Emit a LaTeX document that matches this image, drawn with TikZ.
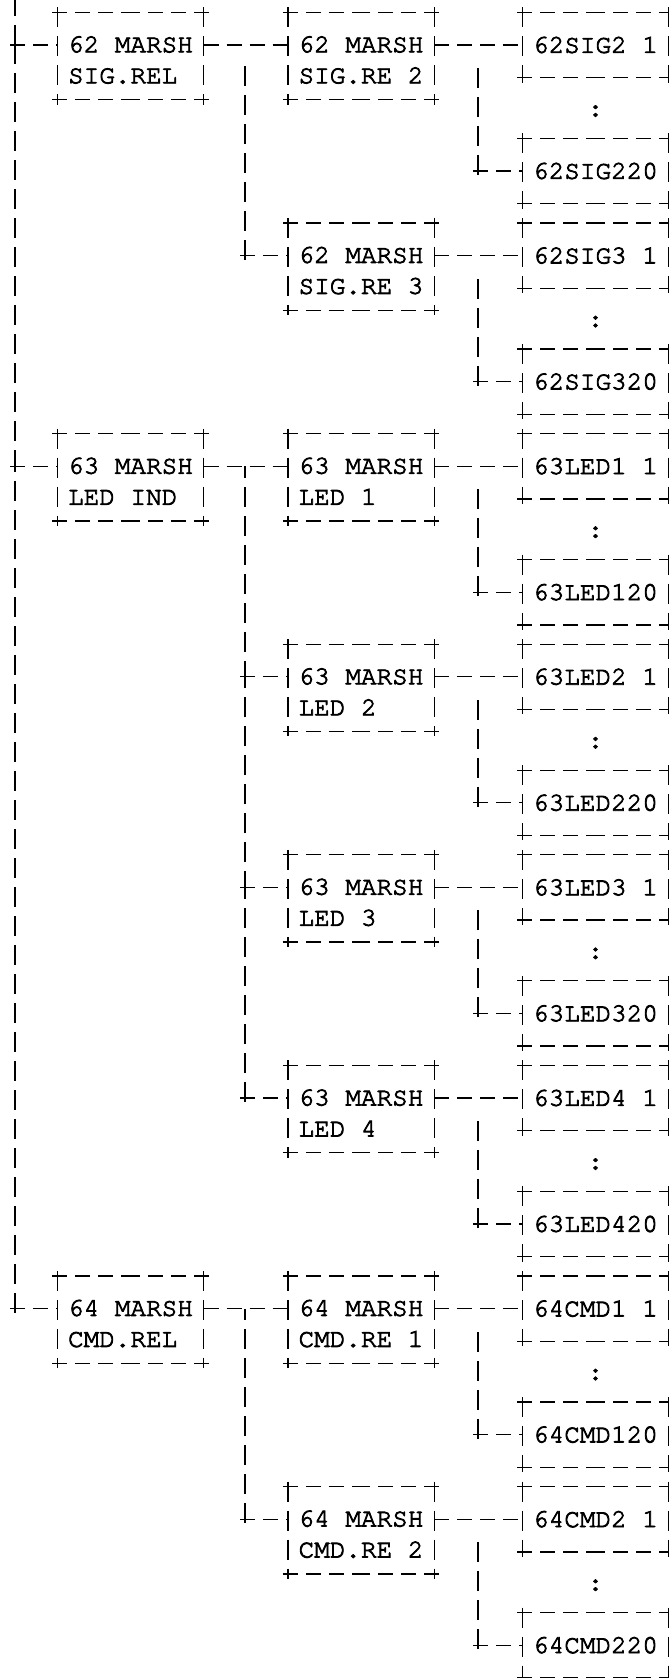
\documentclass[tikz,border=0pt]{standalone}
\usepackage{fontspec}
\newfontfamily\cursorfont{texgyrecursor-regular.otf}[FakeBold=3]
\newcommand\monofont{\cursorfont\fontsize{13pt}{15.5pt}\selectfont}
\newcommand\lift{\rule{0pt}{12pt}}
\tikzset{
  hdash/.style={dash pattern=on 7.5pt off 4pt},
  vdash/.style={dash pattern=on 10pt off 4.5pt},
  framed/.style={inner xsep=5pt, inner ysep=0pt, align=left, font=\monofont, minimum width=72.5pt,
    append after command={
      ([xshift=-2.5pt]\tikzlastnode.north west) edge[hdash] (\tikzlastnode.north)
      ([xshift=2.5pt]\tikzlastnode.north east) edge[hdash] (\tikzlastnode.north)
      ([xshift=-2.5pt]\tikzlastnode.south west) edge[hdash] (\tikzlastnode.south)
      ([xshift=2.5pt]\tikzlastnode.south east) edge[hdash] (\tikzlastnode.south)
      ([yshift=2.5pt]\tikzlastnode.north west) edge[vdash] ([yshift=-2.5pt]\tikzlastnode.south west)
      ([yshift=2.5pt]\tikzlastnode.north east) edge[vdash] ([yshift=-2.5pt]\tikzlastnode.south east)}},
  relbox/.style={framed, minimum height=43pt},
  leafbox/.style={framed, minimum height=32pt},
  dots/.style={font=\monofont, inner sep=0pt}
}
\begin{document}
\begin{tikzpicture}[x=0.5pt, y=-0.5pt, line width=0.65pt]
  \useasboundingbox (0,0) rectangle (669,1678);

  \node[relbox] (a62) at (130.5,56) {\lift62 MARSH\\SIG.REL};
  \node[relbox] (a63) at (130.5,477.2) {\lift63 MARSH\\LED IND};
  \node[relbox] (a64) at (130.5,1319.6) {\lift64 MARSH\\CMD.REL};

  \node[relbox] (b62s2) at (361,56) {\lift62 MARSH\\SIG.RE 2};
  \node[relbox] (b62s3) at (361,266.6) {\lift62 MARSH\\SIG.RE 3};
  \node[relbox] (b63l1) at (361,477.2) {\lift63 MARSH\\LED 1};
  \node[relbox] (b63l2) at (361,687.8) {\lift63 MARSH\\LED 2};
  \node[relbox] (b63l3) at (361,898.4) {\lift63 MARSH\\LED 3};
  \node[relbox] (b63l4) at (361,1109) {\lift63 MARSH\\LED 4};
  \node[relbox] (b64c1) at (361,1319.6) {\lift64 MARSH\\CMD.RE 1};
  \node[relbox] (b64c2) at (361,1530.2) {\lift64 MARSH\\CMD.RE 2};

  \node[leafbox] (s2a) at (595.5,45) {62SIG2 1};
  \node[dots] (s2dots) at (595.5,111) {:};
  \node[leafbox] (s2b) at (595.5,171) {62SIG220};
  \node[leafbox] (s3a) at (595.5,255.6) {62SIG3 1};
  \node[dots] (s3dots) at (595.5,321.6) {:};
  \node[leafbox] (s3b) at (595.5,381.6) {62SIG320};
  \node[leafbox] (l1a) at (595.5,466.2) {63LED1 1};
  \node[dots] (l1dots) at (595.5,532.2) {:};
  \node[leafbox] (l1b) at (595.5,592.2) {63LED120};
  \node[leafbox] (l2a) at (595.5,676.8) {63LED2 1};
  \node[dots] (l2dots) at (595.5,742.8) {:};
  \node[leafbox] (l2b) at (595.5,802.8) {63LED220};
  \node[leafbox] (l3a) at (595.5,887.4) {63LED3 1};
  \node[dots] (l3dots) at (595.5,953.4) {:};
  \node[leafbox] (l3b) at (595.5,1013.4) {63LED320};
  \node[leafbox] (l4a) at (595.5,1098) {63LED4 1};
  \node[dots] (l4dots) at (595.5,1164) {:};
  \node[leafbox] (l4b) at (595.5,1224) {63LED420};
  \node[leafbox] (c1a) at (595.5,1308.6) {64CMD1 1};
  \node[dots] (c1dots) at (595.5,1374.6) {:};
  \node[leafbox] (c1b) at (595.5,1434.6) {64CMD120};
  \node[leafbox] (c2a) at (595.5,1519.2) {64CMD2 1};
  \node[dots] (c2dots) at (595.5,1585.2) {:};
  \node[leafbox] (c2b) at (595.5,1645.2) {64CMD220};

  \coordinate (top) at (15,0);
  \coordinate (t62) at (15,45);
  \coordinate (t63) at (15,466.2);
  \coordinate (t64) at (15,1308.6);
  \draw[vdash] (t62) -- (top);
  \draw[vdash, shorten <=-2pt] (t63) -- (t62);
  \draw[vdash, shorten <=-2pt] (t64) -- (t63);
  \draw[hdash, shorten <=-2.5pt] (t62) -- (t62 -| a62.west);
  \draw[hdash, shorten <=-2.5pt] (t63) -- (t63 -| a63.west);
  \draw[hdash, shorten <=-2.5pt] (t64) -- (t64 -| a64.west);

  \draw[hdash] ([yshift=5.5pt]a62.east) -- ([yshift=5.5pt]b62s2.west);
  \draw[hdash] ([yshift=5.5pt]a63.east) -- ([yshift=5.5pt]b63l1.west);
  \draw[hdash] ([yshift=5.5pt]a64.east) -- ([yshift=5.5pt]b64c1.west);

  \coordinate (k62) at (245,60);
  \coordinate (k62s3) at (245,255.6);
  \draw[vdash, shorten <=-2pt] (k62s3) -- (k62);
  \draw[hdash, shorten <=-2.5pt] (k62s3) -- (k62s3 -| b62s3.west);

  \coordinate (k63) at (245,466.2);
  \coordinate (k63l2) at (245,676.8);
  \coordinate (k63l3) at (245,887.4);
  \coordinate (k63l4) at (245,1098);
  \draw[vdash, shorten <=-2pt] (k63l2) -- (k63);
  \draw[vdash, shorten <=-2pt] (k63l3) -- (k63l2);
  \draw[vdash, shorten <=-2pt] (k63l4) -- (k63l3);
  \draw[hdash, shorten <=-2.5pt] (k63l2) -- (k63l2 -| b63l2.west);
  \draw[hdash, shorten <=-2.5pt] (k63l3) -- (k63l3 -| b63l3.west);
  \draw[hdash, shorten <=-2.5pt] (k63l4) -- (k63l4 -| b63l4.west);

  \coordinate (k64) at (245,1308.6);
  \coordinate (k64c2) at (245,1519.2);
  \draw[vdash, shorten <=-2pt] (k64c2) -- (k64);
  \draw[hdash, shorten <=-2.5pt] (k64c2) -- (k64c2 -| b64c2.west);

  \draw[hdash] ([yshift=5.5pt]b62s2.east) -- (s2a.west);
  \coordinate (v62s2) at (478,59);
  \draw[vdash, shorten <=-2pt] (v62s2 |- s2b.west) -- (v62s2);
  \draw[hdash, shorten <=-2.5pt] (v62s2 |- s2b.west) -- (s2b.west);

  \draw[hdash] ([yshift=5.5pt]b62s3.east) -- (s3a.west);
  \coordinate (v62s3) at (478,269.6);
  \draw[vdash, shorten <=-2pt] (v62s3 |- s3b.west) -- (v62s3);
  \draw[hdash, shorten <=-2.5pt] (v62s3 |- s3b.west) -- (s3b.west);

  \draw[hdash] ([yshift=5.5pt]b63l1.east) -- (l1a.west);
  \coordinate (v63l1) at (478,480.2);
  \draw[vdash, shorten <=-2pt] (v63l1 |- l1b.west) -- (v63l1);
  \draw[hdash, shorten <=-2.5pt] (v63l1 |- l1b.west) -- (l1b.west);

  \draw[hdash] ([yshift=5.5pt]b63l2.east) -- (l2a.west);
  \coordinate (v63l2) at (478,690.8);
  \draw[vdash, shorten <=-2pt] (v63l2 |- l2b.west) -- (v63l2);
  \draw[hdash, shorten <=-2.5pt] (v63l2 |- l2b.west) -- (l2b.west);

  \draw[hdash] ([yshift=5.5pt]b63l3.east) -- (l3a.west);
  \coordinate (v63l3) at (478,901.4);
  \draw[vdash, shorten <=-2pt] (v63l3 |- l3b.west) -- (v63l3);
  \draw[hdash, shorten <=-2.5pt] (v63l3 |- l3b.west) -- (l3b.west);

  \draw[hdash] ([yshift=5.5pt]b63l4.east) -- (l4a.west);
  \coordinate (v63l4) at (478,1112);
  \draw[vdash, shorten <=-2pt] (v63l4 |- l4b.west) -- (v63l4);
  \draw[hdash, shorten <=-2.5pt] (v63l4 |- l4b.west) -- (l4b.west);

  \draw[hdash] ([yshift=5.5pt]b64c1.east) -- (c1a.west);
  \coordinate (v64c1) at (478,1322.6);
  \draw[vdash, shorten <=-2pt] (v64c1 |- c1b.west) -- (v64c1);
  \draw[hdash, shorten <=-2.5pt] (v64c1 |- c1b.west) -- (c1b.west);

  \draw[hdash] ([yshift=5.5pt]b64c2.east) -- (c2a.west);
  \coordinate (v64c2) at (478,1533.2);
  \draw[vdash, shorten <=-2pt] (v64c2 |- c2b.west) -- (v64c2);
  \draw[hdash, shorten <=-2.5pt] (v64c2 |- c2b.west) -- (c2b.west);
\end{tikzpicture}
\end{document}
